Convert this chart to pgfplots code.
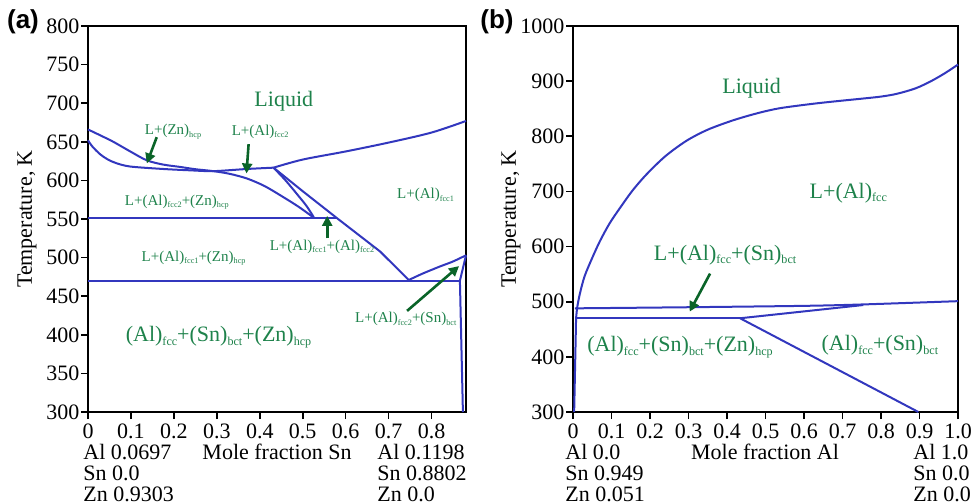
\documentclass[border=0pt]{standalone}
\usepackage{fontspec}
\setmainfont{Liberation Serif}
\setsansfont{Liberation Sans}
\usepackage{pgfplots}
\pgfplotsset{compat=1.18}
\usetikzlibrary{arrows.meta}
\definecolor{cblue}{RGB}{50,55,190}
\definecolor{tgreen}{RGB}{30,130,75}
\definecolor{agreen}{RGB}{10,100,40}
\newcommand{\sub}[1]{\raisebox{-0.35ex}{\scalebox{0.55}{#1}}}
\newcommand{\fs}{\fontsize{7.5}{9}\selectfont}
\newcommand{\fb}{\fontsize{11}{13}\selectfont}
\newcommand{\ft}{\fontsize{11}{13}\selectfont}
\tikzset{
  ar/.style={agreen, line width=1.3pt, -{Triangle[length=5pt,width=5pt]}},
  lb/.style={tgreen, inner sep=0pt},
}
\pgfplotsset{
  pd/.style={
    scale only axis, height=193pt,
    axis line style={line width=0.9pt},
    tick align=outside, tick pos=left,
    major tick length=3.5pt,
    every tick/.style={black, line width=0.8pt},
    ticklabel style={font=\ft},
    yticklabel style={inner sep=0.6pt},
    xticklabel style={inner sep=2pt},
    /pgf/number format/assume math mode=true,
    /pgf/number format/1000 sep={},
    clip=false,
    ymin=300,
  },
  cv/.style={cblue, line width=1pt, no markers},
}
\begin{document}
\begin{tikzpicture}
\useasboundingbox (0,0) rectangle (486pt,251.5pt);
% ---------------- panel (a)
\begin{axis}[pd, at={(44pt,45.5pt)}, anchor=south west, width=189pt,
  xmin=0, xmax=0.8802, ymax=800,
  xtick={0,0.1,0.2,0.3,0.4,0.5,0.6,0.7,0.8},
  xticklabels={0,0.1,0.2,0.3,0.4,0.5,0.6,0.7,0.8},
  ytick={300,350,400,450,500,550,600,650,700,750,800}]
\addplot[cv, smooth] coordinates {(0,666) (0.03,658) (0.059,650) (0.1,637) (0.137,626) (0.175,620.5) (0.214,617.5) (0.25,614.5) (0.292,612) (0.33,608.5) (0.37,602.5) (0.41,593) (0.447,581) (0.49,566) (0.525,552)};
\addplot[cv, smooth] coordinates {(0,652) (0.01,644) (0.028,634) (0.045,627.5) (0.065,622.5) (0.098,618) (0.175,614.8) (0.24,613) (0.292,612) (0.37,614.8) (0.432,616.5)};
\addplot[cv, smooth] coordinates {(0.432,616.5) (0.5,627) (0.6,637.5) (0.7,649) (0.8,662) (0.8802,677)};
\addplot[cv, smooth] coordinates {(0.432,616.5) (0.46,600) (0.49,580) (0.51,566) (0.526,552)};
\addplot[cv] coordinates {(0.432,616.5) (0.5,586) (0.58,551) (0.68,508) (0.747,471)};
\addplot[cv] coordinates {(0,551) (0.58,551)};
\addplot[cv] coordinates {(0,470) (0.866,470)};
\addplot[cv, smooth] coordinates {(0.747,471) (0.78,479.5) (0.82,488.6) (0.85,495) (0.8802,503)};
\addplot[cv] coordinates {(0.866,470) (0.8802,503)};
\addplot[cv] coordinates {(0.866,470) (0.873,300)};
\draw[ar] (axis cs:0.160,656) -- (axis cs:0.137,622);
\draw[ar] (axis cs:0.374,647) -- (axis cs:0.369,609);
\draw[ar] (axis cs:0.557,525) -- (axis cs:0.557,554);
\draw[ar] (axis cs:0.743,431) -- (axis cs:0.864,489);
\node[lb,font=\fb] at (axis cs:0.456,702) {Liquid};
\node[lb,font=\fs] at (axis cs:0.198,663) {L+(Zn)\sub{hcp}};
\node[lb,font=\fs] at (axis cs:0.401,663) {L+(Al)\sub{fcc2}};
\node[lb,font=\fs] at (axis cs:0.207,572) {L+(Al)\sub{fcc2}+(Zn)\sub{hcp}};
\node[lb,font=\fs] at (axis cs:0.786,581) {L+(Al)\sub{fcc1}};
\node[lb,font=\fs] at (axis cs:0.545,514) {L+(Al)\sub{fcc1}+(Al)\sub{fcc2}};
\node[lb,font=\fs] at (axis cs:0.246,499) {L+(Al)\sub{fcc1}+(Zn)\sub{hcp}};
\node[lb,font=\fs] at (axis cs:0.74,420) {L+(Al)\sub{fcc2}+(Sn)\sub{bct}};
\node[lb,font=\fb] at (axis cs:0.304,397) {(Al)\sub{fcc}+(Sn)\sub{bct}+(Zn)\sub{hcp}};
\end{axis}
% ---------------- panel (b)
\begin{axis}[pd, at={(286.5pt,45.5pt)}, anchor=south west, width=192.5pt,
  xmin=0, xmax=1, ymax=1000,
  xtick={0,0.1,0.2,0.3,0.4,0.5,0.6,0.7,0.8,0.9,1},
  xticklabels={0,0.1,0.2,0.3,0.4,0.5,0.6,0.7,0.8,0.9,1.0},
  ytick={300,400,500,600,700,800,900,1000}]
\addplot[cv] coordinates {(0.003,300) (0.008,470)};
\addplot[cv, smooth] coordinates {(0.008,470) (0.011,490) (0.018,515) (0.03,546) (0.049,578) (0.07,610) (0.095,642) (0.122,670) (0.155,702) (0.191,731) (0.24,764) (0.295,792) (0.35,812) (0.416,829) (0.48,842) (0.538,851) (0.624,859) (0.69,864) (0.754,868.5) (0.80,872) (0.841,877) (0.89,887) (0.93,900) (0.965,914) (1.0,930)};
\addplot[cv, smooth] coordinates {(0.005,488) (0.3,490) (0.6,492.5) (0.75,495) (1.0,501)};
\addplot[cv] coordinates {(0.005,470) (0.434,470)};
\addplot[cv] coordinates {(0.434,470) (0.754,494)};
\addplot[cv] coordinates {(0.434,470) (0.897,300)};
\draw[ar] (axis cs:0.356,551) -- (axis cs:0.303,482);
\node[lb,font=\fb] at (axis cs:0.464,887) {Liquid};
\node[lb,font=\fb] at (axis cs:0.715,697) {L+(Al)\sub{fcc}};
\node[lb,font=\fb] at (axis cs:0.395,585) {L+(Al)\sub{fcc}+(Sn)\sub{bct}};
\node[lb,font=\fb] at (axis cs:0.278,418) {(Al)\sub{fcc}+(Sn)\sub{bct}+(Zn)\sub{hcp}};
\node[lb,font=\fb] at (axis cs:0.797,421) {(Al)\sub{fcc}+(Sn)\sub{bct}};
\end{axis}
% ---------------- outer texts (pixel coordinates)
\begin{scope}[x=0.5pt,y=-0.5pt,yshift=251.5pt]
\node[font=\sffamily\bfseries\fontsize{13}{15}\selectfont, inner sep=0pt] at (23,22) {(a)};
\node[font=\sffamily\bfseries\fontsize{13}{15}\selectfont, inner sep=0pt] at (497,22) {(b)};
\node[font=\ft, rotate=90, inner sep=0pt] at (27,219) {Temperature, K};
\node[font=\ft, rotate=90, inner sep=0pt] at (511,219) {Temperature, K};
\node[font=\ft, inner sep=0pt] at (277,452) {Mole fraction Sn};
\node[font=\ft, inner sep=0pt] at (765,452) {Mole fraction Al};
\node[font=\ft, inner sep=0pt, anchor=west] at (83,452) {Al 0.0697};
\node[font=\ft, inner sep=0pt, anchor=west] at (83,473) {Sn 0.0};
\node[font=\ft, inner sep=0pt, anchor=west] at (83,494) {Zn 0.9303};
\node[font=\ft, inner sep=0pt, anchor=west] at (377,452) {Al 0.1198};
\node[font=\ft, inner sep=0pt, anchor=west] at (377,473) {Sn 0.8802};
\node[font=\ft, inner sep=0pt, anchor=west] at (377,494) {Zn 0.0};
\node[font=\ft, inner sep=0pt, anchor=west] at (565,452) {Al 0.0};
\node[font=\ft, inner sep=0pt, anchor=west] at (565,473) {Sn 0.949};
\node[font=\ft, inner sep=0pt, anchor=west] at (565,494) {Zn 0.051};
\node[font=\ft, inner sep=0pt, anchor=west] at (913,452) {Al 1.0};
\node[font=\ft, inner sep=0pt, anchor=west] at (913,473) {Sn 0.0};
\node[font=\ft, inner sep=0pt, anchor=west] at (913,494) {Zn 0.0};
\end{scope}
\end{tikzpicture}
\end{document}
